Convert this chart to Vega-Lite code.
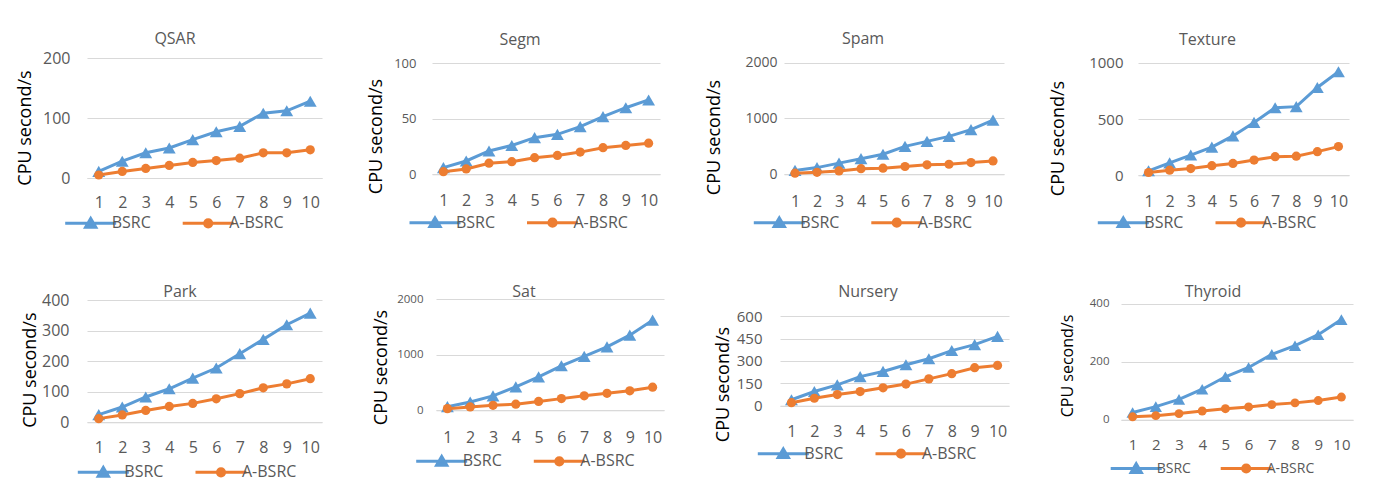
{
"$schema": "https://vega.github.io/schema/vega-lite/v6.json",
"background": "white",
"padding": {"left": 16, "top": 31, "right": 5, "bottom": 5},
"spacing": 49,
"resolve": {"scale": {"color": "independent", "stroke": "independent"}, "legend": {"color": "independent", "stroke": "independent"}},
"vconcat": [
{"spacing": 45,
 "resolve": {"scale": {"color": "independent", "stroke": "independent"}, "legend": {"color": "independent", "stroke": "independent"}},
 "hconcat": [
{"width": 235, "height": 120,
 "title": {"text": "QSAR", "offset": 3, "dx": -29.5},
 "data": {"values": [
  {"run":1,"method":"BSRC","cpu":11},{"run":2,"method":"BSRC","cpu":28},{"run":3,"method":"BSRC","cpu":42},{"run":4,"method":"BSRC","cpu":50},{"run":5,"method":"BSRC","cpu":64},{"run":6,"method":"BSRC","cpu":77},{"run":7,"method":"BSRC","cpu":86},{"run":8,"method":"BSRC","cpu":108},{"run":9,"method":"BSRC","cpu":112},{"run":10,"method":"BSRC","cpu":128},
  {"run":1,"method":"A-BSRC","cpu":5},{"run":2,"method":"A-BSRC","cpu":11},{"run":3,"method":"A-BSRC","cpu":16},{"run":4,"method":"A-BSRC","cpu":21},{"run":5,"method":"A-BSRC","cpu":26},{"run":6,"method":"A-BSRC","cpu":29},{"run":7,"method":"A-BSRC","cpu":33},{"run":8,"method":"A-BSRC","cpu":42},{"run":9,"method":"A-BSRC","cpu":42},{"run":10,"method":"A-BSRC","cpu":47}]},
 "encoding": {
  "x": {"field": "run", "type": "ordinal", "scale": {"type": "point", "padding": 0.5}, "axis": {"title": null, "labelFontSize": 16, "labelPadding": 16}},
  "y": {"field": "cpu", "type": "quantitative", "scale": {"domain": [0, 200], "nice": false}, "axis": {"title": "CPU second/s", "format": "d", "values": [0, 100, 200], "labelFontSize": 16, "labelPadding": 17, "titleX": -62, "titleY": 69.5}}
 },
 "layer": [
  {"transform": [{"filter": "datum.method === 'BSRC'"}], "mark": {"type": "line", "strokeWidth": 3},
   "encoding": {"stroke": {"field": "method", "type": "nominal", "scale": {"domain": ["BSRC"], "range": ["#5B9BD5"]}, "legend": {"title": null, "orient": "none", "legendX": -4.3, "legendY": 157.3, "symbolType": "M-4.25,0L4.25,0M0,-0.8L0.85,0.65L-0.85,0.65Z", "symbolFillColor": "#5B9BD5", "symbolStrokeColor": "#5B9BD5"}}}},
  {"transform": [{"filter": "datum.method === 'BSRC'"}], "mark": {"type": "point", "shape": "triangle-up", "size": 165, "filled": true, "color": "#5B9BD5", "opacity": 1}},
  {"transform": [{"filter": "datum.method === 'A-BSRC'"}], "mark": {"type": "line", "strokeWidth": 3},
   "encoding": {"color": {"field": "method", "type": "nominal", "scale": {"domain": ["A-BSRC"], "range": ["#ED7D31"]}, "legend": {"title": null, "orient": "none", "legendX": 113.2, "legendY": 157.3, "symbolType": "M-4.25,0L4.25,0M0.6,0A0.6,0.6,0,1,1,-0.6,0A0.6,0.6,0,1,1,0.6,0Z", "symbolFillColor": "#ED7D31", "symbolStrokeColor": "#ED7D31"}}}},
  {"transform": [{"filter": "datum.method === 'A-BSRC'"}], "mark": {"type": "point", "shape": "circle", "size": 85, "filled": true, "color": "#ED7D31", "opacity": 1}}
 ]},
{"width": 228, "height": 116.3,
 "title": {"text": "Segm", "offset": 9.5, "dx": -26},
 "data": {"values": [
  {"run":1,"method":"BSRC","cpu":6},{"run":2,"method":"BSRC","cpu":12},{"run":3,"method":"BSRC","cpu":21},{"run":4,"method":"BSRC","cpu":26},{"run":5,"method":"BSRC","cpu":33},{"run":6,"method":"BSRC","cpu":36},{"run":7,"method":"BSRC","cpu":43},{"run":8,"method":"BSRC","cpu":52},{"run":9,"method":"BSRC","cpu":60},{"run":10,"method":"BSRC","cpu":67},
  {"run":1,"method":"A-BSRC","cpu":2.4},{"run":2,"method":"A-BSRC","cpu":4.8},{"run":3,"method":"A-BSRC","cpu":10},{"run":4,"method":"A-BSRC","cpu":11.4},{"run":5,"method":"A-BSRC","cpu":15},{"run":6,"method":"A-BSRC","cpu":17},{"run":7,"method":"A-BSRC","cpu":20},{"run":8,"method":"A-BSRC","cpu":24},{"run":9,"method":"A-BSRC","cpu":26},{"run":10,"method":"A-BSRC","cpu":28}]},
 "encoding": {
  "x": {"field": "run", "type": "ordinal", "scale": {"type": "point", "padding": 0.5}, "axis": {"title": null, "labelFontSize": 16, "labelPadding": 18}},
  "y": {"field": "cpu", "type": "quantitative", "scale": {"domain": [0, 104.8], "nice": false}, "axis": {"title": "CPU second/s", "format": "d", "values": [0, 50, 100], "labelFontSize": 13, "labelPadding": 16, "titleX": -56, "titleY": 78}}
 },
 "layer": [
  {"transform": [{"filter": "datum.method === 'BSRC'"}], "mark": {"type": "line", "strokeWidth": 3},
   "encoding": {"stroke": {"field": "method", "type": "nominal", "scale": {"domain": ["BSRC"], "range": ["#5B9BD5"]}, "legend": {"title": null, "orient": "none", "legendX": -5, "legendY": 156.7, "symbolType": "M-4.25,0L4.25,0M0,-0.8L0.85,0.65L-0.85,0.65Z", "symbolFillColor": "#5B9BD5", "symbolStrokeColor": "#5B9BD5"}}}},
  {"transform": [{"filter": "datum.method === 'BSRC'"}], "mark": {"type": "point", "shape": "triangle-up", "size": 165, "filled": true, "color": "#5B9BD5", "opacity": 1}},
  {"transform": [{"filter": "datum.method === 'A-BSRC'"}], "mark": {"type": "line", "strokeWidth": 3},
   "encoding": {"color": {"field": "method", "type": "nominal", "scale": {"domain": ["A-BSRC"], "range": ["#ED7D31"]}, "legend": {"title": null, "orient": "none", "legendX": 112.5, "legendY": 156.7, "symbolType": "M-4.25,0L4.25,0M0.6,0A0.6,0.6,0,1,1,-0.6,0A0.6,0.6,0,1,1,0.6,0Z", "symbolFillColor": "#ED7D31", "symbolStrokeColor": "#ED7D31"}}}},
  {"transform": [{"filter": "datum.method === 'A-BSRC'"}], "mark": {"type": "point", "shape": "circle", "size": 85, "filled": true, "color": "#ED7D31", "opacity": 1}}
 ]},
{"width": 220, "height": 116.3,
 "title": {"text": "Spam", "offset": 8.4, "dx": -31},
 "data": {"values": [
  {"run":1,"method":"BSRC","cpu":70},{"run":2,"method":"BSRC","cpu":120},{"run":3,"method":"BSRC","cpu":200},{"run":4,"method":"BSRC","cpu":280},{"run":5,"method":"BSRC","cpu":360},{"run":6,"method":"BSRC","cpu":500},{"run":7,"method":"BSRC","cpu":590},{"run":8,"method":"BSRC","cpu":680},{"run":9,"method":"BSRC","cpu":800},{"run":10,"method":"BSRC","cpu":970},
  {"run":1,"method":"A-BSRC","cpu":20},{"run":2,"method":"A-BSRC","cpu":35},{"run":3,"method":"A-BSRC","cpu":60},{"run":4,"method":"A-BSRC","cpu":100},{"run":5,"method":"A-BSRC","cpu":110},{"run":6,"method":"A-BSRC","cpu":140},{"run":7,"method":"A-BSRC","cpu":170},{"run":8,"method":"A-BSRC","cpu":180},{"run":9,"method":"A-BSRC","cpu":210},{"run":10,"method":"A-BSRC","cpu":240}]},
 "encoding": {
  "x": {"field": "run", "type": "ordinal", "scale": {"type": "point", "padding": 0.5}, "axis": {"title": null, "labelFontSize": 16, "labelPadding": 19}},
  "y": {"field": "cpu", "type": "quantitative", "scale": {"domain": [0, 2084], "nice": false}, "axis": {"title": "CPU second/s", "format": "d", "values": [0, 1000, 2000], "labelFontSize": 14, "labelPadding": 7, "titleX": -70, "titleY": 79}}
 },
 "layer": [
  {"transform": [{"filter": "datum.method === 'BSRC'"}], "mark": {"type": "line", "strokeWidth": 3},
   "encoding": {"stroke": {"field": "method", "type": "nominal", "scale": {"domain": ["BSRC"], "range": ["#5B9BD5"]}, "legend": {"title": null, "orient": "none", "legendX": -12.7, "legendY": 156.7, "symbolType": "M-4.25,0L4.25,0M0,-0.8L0.85,0.65L-0.85,0.65Z", "symbolFillColor": "#5B9BD5", "symbolStrokeColor": "#5B9BD5"}}}},
  {"transform": [{"filter": "datum.method === 'BSRC'"}], "mark": {"type": "point", "shape": "triangle-up", "size": 165, "filled": true, "color": "#5B9BD5", "opacity": 1}},
  {"transform": [{"filter": "datum.method === 'A-BSRC'"}], "mark": {"type": "line", "strokeWidth": 3},
   "encoding": {"color": {"field": "method", "type": "nominal", "scale": {"domain": ["A-BSRC"], "range": ["#ED7D31"]}, "legend": {"title": null, "orient": "none", "legendX": 104.8, "legendY": 156.7, "symbolType": "M-4.25,0L4.25,0M0.6,0A0.6,0.6,0,1,1,-0.6,0A0.6,0.6,0,1,1,0.6,0Z", "symbolFillColor": "#ED7D31", "symbolStrokeColor": "#ED7D31"}}}},
  {"transform": [{"filter": "datum.method === 'A-BSRC'"}], "mark": {"type": "point", "shape": "circle", "size": 85, "filled": true, "color": "#ED7D31", "opacity": 1}}
 ]},
{"width": 211, "height": 117.3,
 "title": {"text": "Texture", "offset": 7.9, "dx": -36},
 "data": {"values": [
  {"run":1,"method":"BSRC","cpu":40},{"run":2,"method":"BSRC","cpu":110},{"run":3,"method":"BSRC","cpu":180},{"run":4,"method":"BSRC","cpu":250},{"run":5,"method":"BSRC","cpu":350},{"run":6,"method":"BSRC","cpu":470},{"run":7,"method":"BSRC","cpu":600},{"run":8,"method":"BSRC","cpu":610},{"run":9,"method":"BSRC","cpu":780},{"run":10,"method":"BSRC","cpu":920},
  {"run":1,"method":"A-BSRC","cpu":25},{"run":2,"method":"A-BSRC","cpu":45},{"run":3,"method":"A-BSRC","cpu":60},{"run":4,"method":"A-BSRC","cpu":85},{"run":5,"method":"A-BSRC","cpu":105},{"run":6,"method":"A-BSRC","cpu":135},{"run":7,"method":"A-BSRC","cpu":165},{"run":8,"method":"A-BSRC","cpu":170},{"run":9,"method":"A-BSRC","cpu":210},{"run":10,"method":"A-BSRC","cpu":255}]},
 "encoding": {
  "x": {"field": "run", "type": "ordinal", "scale": {"type": "point", "padding": 0.5}, "axis": {"title": null, "labelFontSize": 16, "labelPadding": 18}},
  "y": {"field": "cpu", "type": "quantitative", "scale": {"domain": [0, 1042], "nice": false}, "axis": {"title": "CPU second/s", "format": "d", "values": [0, 500, 1000], "labelFontSize": 15, "labelPadding": 15, "titleX": -80, "titleY": 80}}
 },
 "layer": [
  {"transform": [{"filter": "datum.method === 'BSRC'"}], "mark": {"type": "line", "strokeWidth": 3},
   "encoding": {"stroke": {"field": "method", "type": "nominal", "scale": {"domain": ["BSRC"], "range": ["#5B9BD5"]}, "legend": {"title": null, "orient": "none", "legendX": -22.7, "legendY": 156.7, "symbolType": "M-4.25,0L4.25,0M0,-0.8L0.85,0.65L-0.85,0.65Z", "symbolFillColor": "#5B9BD5", "symbolStrokeColor": "#5B9BD5"}}}},
  {"transform": [{"filter": "datum.method === 'BSRC'"}], "mark": {"type": "point", "shape": "triangle-up", "size": 165, "filled": true, "color": "#5B9BD5", "opacity": 1}},
  {"transform": [{"filter": "datum.method === 'A-BSRC'"}], "mark": {"type": "line", "strokeWidth": 3},
   "encoding": {"color": {"field": "method", "type": "nominal", "scale": {"domain": ["A-BSRC"], "range": ["#ED7D31"]}, "legend": {"title": null, "orient": "none", "legendX": 95, "legendY": 156.7, "symbolType": "M-4.25,0L4.25,0M0.6,0A0.6,0.6,0,1,1,-0.6,0A0.6,0.6,0,1,1,0.6,0Z", "symbolFillColor": "#ED7D31", "symbolStrokeColor": "#ED7D31"}}}},
  {"transform": [{"filter": "datum.method === 'A-BSRC'"}], "mark": {"type": "point", "shape": "circle", "size": 85, "filled": true, "color": "#ED7D31", "opacity": 1}}
 ]}
]},
{"spacing": 50,
 "resolve": {"scale": {"color": "independent", "stroke": "independent"}, "legend": {"color": "independent", "stroke": "independent"}},
 "hconcat": [
{"width": 235, "height": 123.3,
 "title": {"text": "Park", "offset": -7.7, "dx": -24.5},
 "data": {"values": [
  {"run":1,"method":"BSRC","cpu":25},{"run":2,"method":"BSRC","cpu":50},{"run":3,"method":"BSRC","cpu":83},{"run":4,"method":"BSRC","cpu":110},{"run":5,"method":"BSRC","cpu":145},{"run":6,"method":"BSRC","cpu":178},{"run":7,"method":"BSRC","cpu":225},{"run":8,"method":"BSRC","cpu":272},{"run":9,"method":"BSRC","cpu":320},{"run":10,"method":"BSRC","cpu":358},
  {"run":1,"method":"A-BSRC","cpu":12},{"run":2,"method":"A-BSRC","cpu":24},{"run":3,"method":"A-BSRC","cpu":39},{"run":4,"method":"A-BSRC","cpu":52},{"run":5,"method":"A-BSRC","cpu":62},{"run":6,"method":"A-BSRC","cpu":77},{"run":7,"method":"A-BSRC","cpu":94},{"run":8,"method":"A-BSRC","cpu":113},{"run":9,"method":"A-BSRC","cpu":126},{"run":10,"method":"A-BSRC","cpu":143}]},
 "encoding": {
  "x": {"field": "run", "type": "ordinal", "scale": {"type": "point", "padding": 0.5}, "axis": {"title": null, "labelFontSize": 16, "labelPadding": 17}},
  "y": {"field": "cpu", "type": "quantitative", "scale": {"domain": [0, 404.3], "nice": false}, "axis": {"title": "CPU second/s", "format": "d", "values": [0, 100, 200, 300, 400], "labelFontSize": 16, "labelPadding": 18, "titleX": -57, "titleY": 70.7}}
 },
 "layer": [
  {"transform": [{"filter": "datum.method === 'BSRC'"}], "mark": {"type": "line", "strokeWidth": 3},
   "encoding": {"stroke": {"field": "method", "type": "nominal", "scale": {"domain": ["BSRC"], "range": ["#5B9BD5"]}, "legend": {"title": null, "orient": "none", "legendX": 8.3, "legendY": 165.3, "symbolType": "M-4.25,0L4.25,0M0,-0.8L0.85,0.65L-0.85,0.65Z", "symbolFillColor": "#5B9BD5", "symbolStrokeColor": "#5B9BD5"}}}},
  {"transform": [{"filter": "datum.method === 'BSRC'"}], "mark": {"type": "point", "shape": "triangle-up", "size": 165, "filled": true, "color": "#5B9BD5", "opacity": 1}},
  {"transform": [{"filter": "datum.method === 'A-BSRC'"}], "mark": {"type": "line", "strokeWidth": 3},
   "encoding": {"color": {"field": "method", "type": "nominal", "scale": {"domain": ["A-BSRC"], "range": ["#ED7D31"]}, "legend": {"title": null, "orient": "none", "legendX": 126, "legendY": 165.3, "symbolType": "M-4.25,0L4.25,0M0.6,0A0.6,0.6,0,1,1,-0.6,0A0.6,0.6,0,1,1,0.6,0Z", "symbolFillColor": "#ED7D31", "symbolStrokeColor": "#ED7D31"}}}},
  {"transform": [{"filter": "datum.method === 'A-BSRC'"}], "mark": {"type": "point", "shape": "circle", "size": 85, "filled": true, "color": "#ED7D31", "opacity": 1}}
 ]},
{"width": 228, "height": 111.3,
 "title": {"text": "Sat", "offset": -6.7, "dx": -26},
 "data": {"values": [
  {"run":1,"method":"BSRC","cpu":65},{"run":2,"method":"BSRC","cpu":150},{"run":3,"method":"BSRC","cpu":260},{"run":4,"method":"BSRC","cpu":420},{"run":5,"method":"BSRC","cpu":600},{"run":6,"method":"BSRC","cpu":800},{"run":7,"method":"BSRC","cpu":970},{"run":8,"method":"BSRC","cpu":1140},{"run":9,"method":"BSRC","cpu":1350},{"run":10,"method":"BSRC","cpu":1620},
  {"run":1,"method":"A-BSRC","cpu":30},{"run":2,"method":"A-BSRC","cpu":60},{"run":3,"method":"A-BSRC","cpu":90},{"run":4,"method":"A-BSRC","cpu":110},{"run":5,"method":"A-BSRC","cpu":160},{"run":6,"method":"A-BSRC","cpu":210},{"run":7,"method":"A-BSRC","cpu":260},{"run":8,"method":"A-BSRC","cpu":305},{"run":9,"method":"A-BSRC","cpu":350},{"run":10,"method":"A-BSRC","cpu":415}]},
 "encoding": {
  "x": {"field": "run", "type": "ordinal", "scale": {"type": "point", "padding": 0.5}, "axis": {"title": null, "labelFontSize": 16, "labelPadding": 19}},
  "y": {"field": "cpu", "type": "quantitative", "scale": {"domain": [0, 2000], "nice": false}, "axis": {"title": "CPU second/s", "format": "d", "values": [0, 1000, 2000], "labelFontSize": 11.5, "labelPadding": 13, "titleX": -55, "titleY": 68}}
 },
 "layer": [
  {"transform": [{"filter": "datum.method === 'BSRC'"}], "mark": {"type": "line", "strokeWidth": 3},
   "encoding": {"stroke": {"field": "method", "type": "nominal", "scale": {"domain": ["BSRC"], "range": ["#5B9BD5"]}, "legend": {"title": null, "orient": "none", "legendX": -2.3, "legendY": 154.3, "symbolType": "M-4.25,0L4.25,0M0,-0.8L0.85,0.65L-0.85,0.65Z", "symbolFillColor": "#5B9BD5", "symbolStrokeColor": "#5B9BD5"}}}},
  {"transform": [{"filter": "datum.method === 'BSRC'"}], "mark": {"type": "point", "shape": "triangle-up", "size": 165, "filled": true, "color": "#5B9BD5", "opacity": 1}},
  {"transform": [{"filter": "datum.method === 'A-BSRC'"}], "mark": {"type": "line", "strokeWidth": 3},
   "encoding": {"color": {"field": "method", "type": "nominal", "scale": {"domain": ["A-BSRC"], "range": ["#ED7D31"]}, "legend": {"title": null, "orient": "none", "legendX": 115.3, "legendY": 154.3, "symbolType": "M-4.25,0L4.25,0M0.6,0A0.6,0.6,0,1,1,-0.6,0A0.6,0.6,0,1,1,0.6,0Z", "symbolFillColor": "#ED7D31", "symbolStrokeColor": "#ED7D31"}}}},
  {"transform": [{"filter": "datum.method === 'A-BSRC'"}], "mark": {"type": "point", "shape": "circle", "size": 85, "filled": true, "color": "#ED7D31", "opacity": 1}}
 ]},
{"width": 229, "height": 106.7,
 "title": {"text": "Nursery", "offset": -1, "dx": -26.5},
 "data": {"values": [
  {"run":1,"method":"BSRC","cpu":40},{"run":2,"method":"BSRC","cpu":95},{"run":3,"method":"BSRC","cpu":140},{"run":4,"method":"BSRC","cpu":195},{"run":5,"method":"BSRC","cpu":230},{"run":6,"method":"BSRC","cpu":275},{"run":7,"method":"BSRC","cpu":315},{"run":8,"method":"BSRC","cpu":370},{"run":9,"method":"BSRC","cpu":410},{"run":10,"method":"BSRC","cpu":465},
  {"run":1,"method":"A-BSRC","cpu":20},{"run":2,"method":"A-BSRC","cpu":50},{"run":3,"method":"A-BSRC","cpu":75},{"run":4,"method":"A-BSRC","cpu":95},{"run":5,"method":"A-BSRC","cpu":120},{"run":6,"method":"A-BSRC","cpu":145},{"run":7,"method":"A-BSRC","cpu":180},{"run":8,"method":"A-BSRC","cpu":215},{"run":9,"method":"A-BSRC","cpu":255},{"run":10,"method":"A-BSRC","cpu":270}]},
 "encoding": {
  "x": {"field": "run", "type": "ordinal", "scale": {"type": "point", "padding": 0.5}, "axis": {"title": null, "labelFontSize": 16, "labelPadding": 18}},
  "y": {"field": "cpu", "type": "quantitative", "scale": {"domain": [0, 716], "nice": false}, "axis": {"title": "CPU second/s", "format": "d", "values": [0, 150, 300, 450, 600], "labelFontSize": 15, "labelPadding": 18, "titleX": -57, "titleY": 85}}
 },
 "layer": [
  {"transform": [{"filter": "datum.method === 'BSRC'"}], "mark": {"type": "line", "strokeWidth": 3},
   "encoding": {"stroke": {"field": "method", "type": "nominal", "scale": {"domain": ["BSRC"], "range": ["#5B9BD5"]}, "legend": {"title": null, "orient": "none", "legendX": -4.7, "legendY": 146.7, "symbolType": "M-4.25,0L4.25,0M0,-0.8L0.85,0.65L-0.85,0.65Z", "symbolFillColor": "#5B9BD5", "symbolStrokeColor": "#5B9BD5"}}}},
  {"transform": [{"filter": "datum.method === 'BSRC'"}], "mark": {"type": "point", "shape": "triangle-up", "size": 165, "filled": true, "color": "#5B9BD5", "opacity": 1}},
  {"transform": [{"filter": "datum.method === 'A-BSRC'"}], "mark": {"type": "line", "strokeWidth": 3},
   "encoding": {"color": {"field": "method", "type": "nominal", "scale": {"domain": ["A-BSRC"], "range": ["#ED7D31"]}, "legend": {"title": null, "orient": "none", "legendX": 113, "legendY": 146.7, "symbolType": "M-4.25,0L4.25,0M0.6,0A0.6,0.6,0,1,1,-0.6,0A0.6,0.6,0,1,1,0.6,0Z", "symbolFillColor": "#ED7D31", "symbolStrokeColor": "#ED7D31"}}}},
  {"transform": [{"filter": "datum.method === 'A-BSRC'"}], "mark": {"type": "point", "shape": "circle", "size": 85, "filled": true, "color": "#ED7D31", "opacity": 1}}
 ]},
{"width": 232, "height": 120.7,
 "title": {"text": "Thyroid", "offset": -2.2, "dx": -24},
 "data": {"values": [
  {"run":1,"method":"BSRC","cpu":25},{"run":2,"method":"BSRC","cpu":45},{"run":3,"method":"BSRC","cpu":70},{"run":4,"method":"BSRC","cpu":105},{"run":5,"method":"BSRC","cpu":148},{"run":6,"method":"BSRC","cpu":180},{"run":7,"method":"BSRC","cpu":225},{"run":8,"method":"BSRC","cpu":255},{"run":9,"method":"BSRC","cpu":293},{"run":10,"method":"BSRC","cpu":345},
  {"run":1,"method":"A-BSRC","cpu":10},{"run":2,"method":"A-BSRC","cpu":14},{"run":3,"method":"A-BSRC","cpu":21},{"run":4,"method":"A-BSRC","cpu":30},{"run":5,"method":"A-BSRC","cpu":38},{"run":6,"method":"A-BSRC","cpu":44},{"run":7,"method":"A-BSRC","cpu":52},{"run":8,"method":"A-BSRC","cpu":58},{"run":9,"method":"A-BSRC","cpu":66},{"run":10,"method":"A-BSRC","cpu":78}]},
 "encoding": {
  "x": {"field": "run", "type": "ordinal", "scale": {"type": "point", "padding": 0.5}, "axis": {"title": null, "labelFontSize": 15, "labelPadding": 18}},
  "y": {"field": "cpu", "type": "quantitative", "scale": {"domain": [0, 416], "nice": false}, "axis": {"title": "CPU second/s", "format": "d", "values": [0, 200, 400], "labelFontSize": 11.5, "labelPadding": 12, "titleX": -54, "titleY": 66.5, "titleFontSize": 16}}
 },
 "layer": [
  {"transform": [{"filter": "datum.method === 'BSRC'"}], "mark": {"type": "line", "strokeWidth": 3},
   "encoding": {"stroke": {"field": "method", "type": "nominal", "scale": {"domain": ["BSRC"], "range": ["#5B9BD5"]}, "legend": {"title": null, "orient": "none", "legendX": 7.7, "legendY": 162, "labelFontSize": 14, "symbolType": "M-4.25,0L4.25,0M0,-0.8L0.85,0.65L-0.85,0.65Z", "symbolFillColor": "#5B9BD5", "symbolStrokeColor": "#5B9BD5"}}}},
  {"transform": [{"filter": "datum.method === 'BSRC'"}], "mark": {"type": "point", "shape": "triangle-up", "size": 150, "filled": true, "color": "#5B9BD5", "opacity": 1}},
  {"transform": [{"filter": "datum.method === 'A-BSRC'"}], "mark": {"type": "line", "strokeWidth": 3},
   "encoding": {"color": {"field": "method", "type": "nominal", "scale": {"domain": ["A-BSRC"], "range": ["#ED7D31"]}, "legend": {"title": null, "orient": "none", "legendX": 117.7, "legendY": 162, "labelFontSize": 14, "symbolType": "M-4.25,0L4.25,0M0.6,0A0.6,0.6,0,1,1,-0.6,0A0.6,0.6,0,1,1,0.6,0Z", "symbolFillColor": "#ED7D31", "symbolStrokeColor": "#ED7D31"}}}},
  {"transform": [{"filter": "datum.method === 'A-BSRC'"}], "mark": {"type": "point", "shape": "circle", "size": 80, "filled": true, "color": "#ED7D31", "opacity": 1}}
 ]}
]}
],
"config": {
 "view": {"stroke": null},
 "font": "Open Sans",
 "title": {"font": "Open Sans", "fontSize": 16, "fontWeight": "normal", "color": "#595959", "anchor": "middle", "frame": "group"},
 "axis": {"labelFont": "Open Sans", "labelColor": "#595959", "ticks": false, "tickSize": 0, "domain": false, "gridColor": "#D9D9D9", "gridWidth": 1},
 "axisX": {"domain": true, "domainColor": "#D9D9D9", "domainWidth": 1, "grid": false, "labelAngle": 0},
 "axisY": {"grid": true, "titleFont": "Open Sans", "titleFontSize": 18, "titleFontWeight": "normal", "titleColor": "#000000", "titleBaseline": "middle", "titleAngle": 270},
 "legend": {"labelFont": "Open Sans", "labelFontSize": 16, "labelColor": "#595959", "symbolSize": 144, "labelOffset": 13, "padding": 0, "symbolStrokeWidth": 3, "symbolOpacity": 1}
}
}
